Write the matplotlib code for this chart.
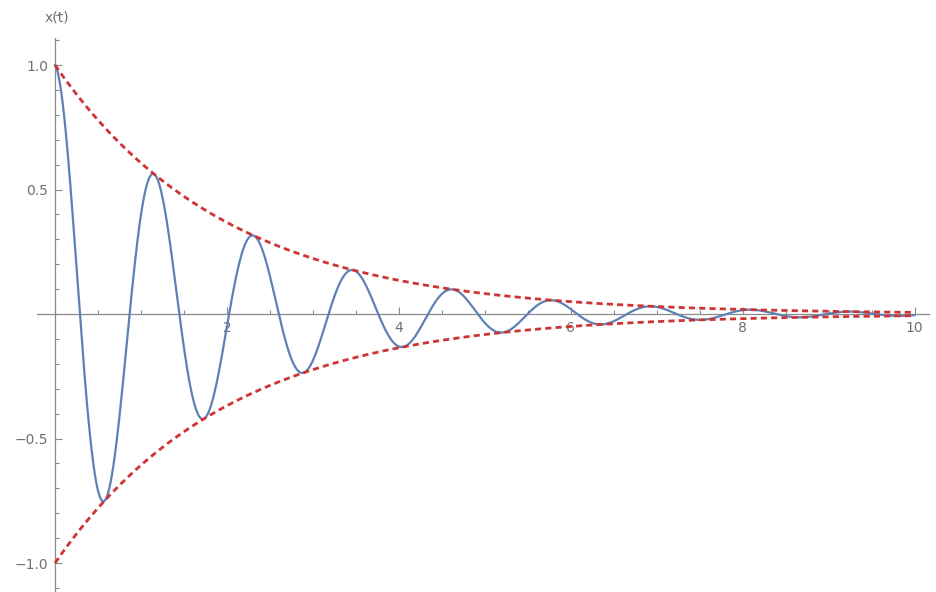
import numpy as np
import matplotlib.pyplot as plt
from matplotlib.ticker import MultipleLocator, FixedLocator

# damped oscillation x(t) = exp(-gamma t) cos(omega t) and its envelope
gamma = 0.5
omega = 5.43
t_max = 10

t = np.linspace(0, t_max, 2000)
x = np.exp(-gamma * t) * np.cos(omega * t)
env = np.exp(-gamma * t)

x_ticks = [2, 4, 6, 8, 10]
x_minor = np.arange(0, 10.01, 0.5)
y_ticks = [-1.0, -0.5, 0.5, 1.0]

fig = plt.figure(figsize=(9.37, 5.92), dpi=100)
ax = fig.add_axes([0, 0, 1, 1])

ax.plot(t, x, color='#5e81b5', lw=1.6, zorder=3)
ax.plot(t, env, color='#cf3333', lw=2.0, ls=(0, (2.2, 1.5)), zorder=4)
ax.plot(t, -env, color='#cf3333', lw=2.0, ls=(0, (2.2, 1.5)), zorder=4)

ax.set_xlim(-0.64, 10.26)
ax.set_ylim(-1.116, 1.261)

# axes through the origin, Mathematica style
for s in ['top', 'right']:
    ax.spines[s].set_visible(False)
ax.spines['left'].set_position(('data', 0))
ax.spines['bottom'].set_position(('data', 0))
ax.spines['left'].set_bounds(-1.12, 1.11)
ax.spines['bottom'].set_bounds(-0.21, 10.17)
for s in ['left', 'bottom']:
    ax.spines[s].set_color('#8a8a8a')
    ax.spines[s].set_linewidth(0.9)

ax.xaxis.set_major_locator(FixedLocator(x_ticks))
ax.xaxis.set_minor_locator(FixedLocator(x_minor))
ax.yaxis.set_major_locator(FixedLocator(y_ticks))
ax.yaxis.set_minor_locator(MultipleLocator(0.1))
ax.set_xticklabels([str(v) for v in x_ticks])
ax.set_yticklabels(['\u22121.0', '\u22120.5', '0.5', '1.0'])

ax.tick_params(axis='both', which='both', direction='in', color='#8a8a8a',
               labelcolor='#707070', labelsize=10, width=0.8)
ax.tick_params(axis='both', which='major', length=5, pad=5)
ax.tick_params(axis='both', which='minor', length=3)

ax.text(0.02, 1.19, 'x(t)', ha='center', va='center', color='#707070', fontsize=10)

fig.savefig('out.png', dpi=100)
